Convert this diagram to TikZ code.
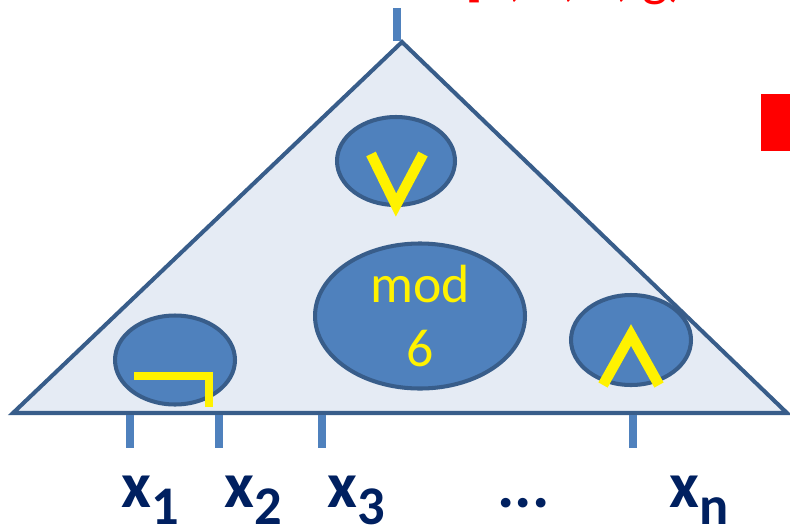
\documentclass[tikz,border=0pt]{standalone}
\usepackage{fontspec}
\setmainfont{Carlito}
\usepackage{tikz}
\usetikzlibrary{shapes,positioning}

\definecolor{gatefill}{HTML}{4F81BD}
\definecolor{gateline}{HTML}{385D8A}
\definecolor{treefill}{HTML}{E5EBF4}
\definecolor{varblue}{HTML}{002060}
\newcommand{\varsub}[1]{\raisebox{-10pt}{\fontsize{31}{31}\selectfont #1}}

\begin{document}
\begin{tikzpicture}[
    x=0.02cm, y=-0.02cm,
    gate/.style={ellipse, draw=gateline, fill=gatefill, line width=2.3pt, inner sep=0pt},
    wire/.style={draw=gatefill, line width=4.5pt},
    sym/.style={draw=yellow, line width=6pt},
    var/.style={font=\fontsize{37}{37}\selectfont\bfseries, text=varblue,
                anchor=base west, inner sep=0pt}
]
\useasboundingbox (0,0) rectangle (790,524);
\clip (0,0) rectangle (790,524);

%% red range text, cut by the top edge
\node[anchor=base west, inner sep=0pt, text=red, font=\fontsize{31}{31}\selectfont] (range) at (465,-5) {[1, 2, 6, g)};
\fill[red] (761,94) rectangle (790,151);

%% the tree
\coordinate (left)  at (13,413);
\coordinate (apex)  at (402,42);
\coordinate (right) at (787,413);
\draw[draw=gateline, fill=treefill, line width=2.3pt, line join=miter]
    (left) -- (apex) -- (right) -- cycle;

%% output wire
\coordinate (out)    at (397,41);
\coordinate (outend) at (397,8);
\draw[wire] (out) -- (outend);

%% gates
\node[gate, minimum width=2.36cm, minimum height=1.76cm] (orgate)  at (396,161) {};
\node[gate, minimum width=4.2cm,  minimum height=2.76cm, text=yellow, align=center,
      font=\fontsize{30.6}{36.9}\selectfont] (modgate) at (420,316) {mod\\6};
\node[gate, minimum width=2.4cm,  minimum height=1.78cm] (notgate) at (175,360) {};
\node[gate, minimum width=2.4cm,  minimum height=1.8cm]  (andgate) at (631,340) {};

%% yellow symbols
\draw[sym, line join=miter] ([shift={(-25,-7)}]orgate.center) -- ([shift={(0,44)}]orgate.center)
    -- ([shift={(27,-7)}]orgate.center);
\draw[sym, line width=4.8pt, line join=miter] ([shift={(-41,16)}]notgate.center)
    -- ([shift={(34,16)}]notgate.center) -- ([shift={(34,47)}]notgate.center);
\draw[sym, line join=miter] ([shift={(-28,45)}]andgate.center) -- ([shift={(0,-5)}]andgate.center)
    -- ([shift={(28,45)}]andgate.center);

%% input wires
\foreach \i/\px in {1/130, 2/219, 3/322, n/633}{
  \coordinate (in\i)  at (\px,415);
  \coordinate (pin\i) at (\px,448);
  \draw[wire] (in\i) -- (pin\i);
}

%% variables
\node[var] (x1)   at (121,507) {x\varsub{1}};
\node[var] (x2)   at (224,507) {x\varsub{2}};
\node[var] (x3)   at (327,507) {x\varsub{3}};
\node[var] (dots) at (497,507) {...};
\node[var] (xn)   at (669,507) {x\varsub{n}};

\end{tikzpicture}
\end{document}
